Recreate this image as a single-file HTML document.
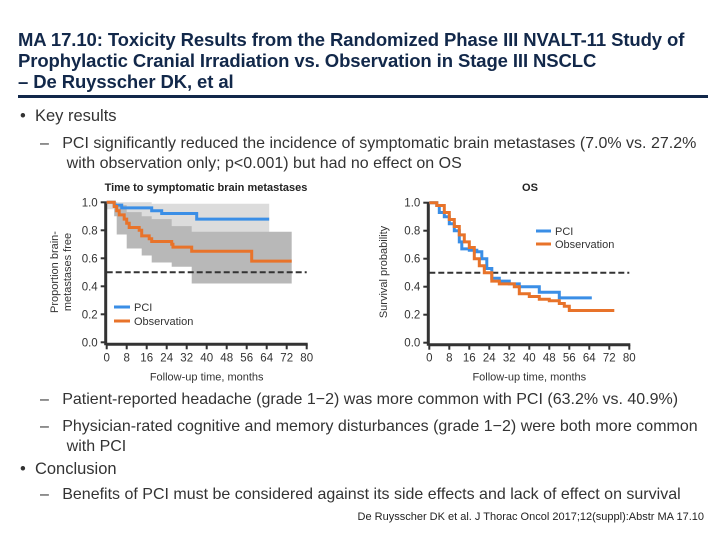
<!DOCTYPE html>
<html><head><meta charset="utf-8"><style>
body{margin:0;width:720px;height:540px;background:#fff;position:relative;overflow:hidden;font-family:"Liberation Sans",sans-serif;color:#222}
.a{position:absolute;white-space:nowrap}
.t{font-weight:bold;color:#12284a;font-size:18.5px;line-height:21px;left:18px;top:29px;letter-spacing:-0.1px}
.b{font-size:16px;color:#333}
</style></head><body>
<div class="a t">MA 17.10: Toxicity Results from the Randomized Phase III NVALT-11 Study of<br>Prophylactic Cranial Irradiation vs. Observation in Stage III NSCLC<br>– De Ruysscher DK, et al</div>
<div class="a" style="left:18px;top:95px;width:690px;height:3px;background:#12284a"></div>
<div class="a b" style="left:20px;top:107px;font-size:16.5px">•&nbsp;&nbsp;Key results</div>
<div class="a b" style="left:40px;top:134px;line-height:20px">–&nbsp;&nbsp;&nbsp;PCI significantly reduced the incidence of symptomatic brain metastases (7.0% vs. 27.2%<br>&nbsp;&nbsp;&nbsp;&nbsp;&nbsp;&nbsp;with observation only; p&lt;0.001) but had no effect on OS</div>
<div class="a b" style="left:40px;top:391px">–&nbsp;&nbsp;&nbsp;Patient-reported headache (grade 1−2) was more common with PCI (63.2% vs. 40.9%)</div>
<div class="a b" style="left:40px;top:417px;line-height:20px">–&nbsp;&nbsp;&nbsp;Physician-rated cognitive and memory disturbances (grade 1−2) were both more common<br>&nbsp;&nbsp;&nbsp;&nbsp;&nbsp;&nbsp;with PCI</div>
<div class="a b" style="left:20px;top:460px;font-size:16.5px">•&nbsp;&nbsp;Conclusion</div>
<div class="a b" style="left:40px;top:486px">–&nbsp;&nbsp;&nbsp;Benefits of PCI must be considered against its side effects and lack of effect on survival</div>
<div class="a" style="right:16px;top:511px;font-size:11px;color:#222">De Ruysscher DK et al. J Thorac Oncol 2017;12(suppl):Abstr MA 17.10</div>
<svg id="s" width="720" height="540" style="position:absolute;left:0;top:0" font-family="Liberation Sans, sans-serif"></svg>
<script>
const xTicks=[0,8,16,24,32,40,48,56,64,72,80];
const yTicks=[0,0.2,0.4,0.6,0.8,1.0];
const bmPciT=[0,3,6,18,22,36,65];
const bmPciS=[1,0.98,0.96,0.94,0.92,0.88,0.88];
const bmObsT=[0,3,4,5,7,8,9,13,14,17,18,26,26.5,34,58,74];
const bmObsS=[1,0.97,0.94,0.91,0.88,0.85,0.82,0.80,0.76,0.74,0.72,0.70,0.68,0.65,0.58,0.58];
const bmPciCiT=[0,3,6,18,22,36,65];
const bmPciLo=[1,0.95,0.93,0.88,0.85,0.78,0.78];
const bmPciHi=[1,1,1,0.99,0.99,0.99,0.99];
const bmObsCiT=[3,4,8,14,18,26,34,58,74];
const bmObsLo=[0.95,0.90,0.77,0.67,0.62,0.57,0.54,0.42,0.42];
const bmObsHi=[1,0.98,0.93,0.90,0.88,0.83,0.79,0.79,0.79];
const osPciT=[0,3,4,6,8,10,12,13,16,19,21,23,25,28,32,36,44,52,65];
const osPciS=[1,0.98,0.93,0.90,0.85,0.80,0.72,0.67,0.66,0.65,0.60,0.53,0.46,0.44,0.42,0.40,0.36,0.32,0.32];
const osObsT=[0,3,6,8,10,12,14,16,18,20,22,25,28,34,36,40,44,48,52,54,56,74];
const osObsS=[1,0.98,0.93,0.88,0.83,0.77,0.72,0.68,0.60,0.55,0.50,0.44,0.42,0.40,0.35,0.33,0.31,0.30,0.28,0.26,0.23,0.23];
const NS='http://www.w3.org/2000/svg',svg=document.getElementById('s');
function el(t,a,p){const e=document.createElementNS(NS,t);for(const k in a)e.setAttribute(k,a[k]);(p||svg).appendChild(e);return e;}
function txt(x,y,s,a,p){const e=el('text',Object.assign({x:x,y:y},a),p);e.textContent=s;return e;}
function step(T,S,sx,sy){let d='M'+sx(T[0])+','+sy(S[0]);for(let i=1;i<T.length;i++){d+='H'+sx(T[i])+'V'+sy(S[i]);}return d;}
function band(T,L,H,sx,sy){let d='M'+sx(T[0])+','+sy(H[0]);for(let i=1;i<T.length;i++)d+='H'+sx(T[i])+'V'+sy(H[i]);for(let i=T.length-1;i>=0;i--){d+='V'+sy(L[i]);if(i>0)d+='H'+sx(T[i-1]);}return d+'Z';}
function axes(g,x0,sx,sy){
  el('line',{x1:sx(0),y1:sy(0)+2,x2:sx(80)+1,y2:sy(0)+2,stroke:'#333','stroke-width':3},g);
  el('line',{x1:sx(0)-1,y1:sy(0)+3,x2:sx(0)-1,y2:sy(1),stroke:'#333','stroke-width':3},g);
  xTicks.forEach(v=>{el('line',{x1:sx(v),y1:sy(0)+2,x2:sx(v),y2:sy(0)+7,stroke:'#333','stroke-width':2},g);txt(sx(v),sy(0)+19,String(v),{'font-size':11.5,fill:'#333','text-anchor':'middle'},g);});
  yTicks.forEach(v=>{el('line',{x1:sx(0)-6,y1:sy(v),x2:sx(0),y2:sy(v),stroke:'#333','stroke-width':2},g);txt(sx(0)-9,sy(v)+4,v.toFixed(1),{'font-size':11.5,fill:'#333','text-anchor':'end'},g);});
  el('line',{x1:sx(0),y1:sy(0.5),x2:sx(80),y2:sy(0.5),stroke:'#333','stroke-width':2,'stroke-dasharray':'6,3'},g);
  txt((sx(0)+sx(80))/2,sy(0)+38,'Follow-up time, months',{'font-size':11,fill:'#333','text-anchor':'middle'},g);
}
const g1=el('g',{});
const sx1=v=>106.7+v*2.5, sy1=v=>342.3-v*140;
el('path',{d:band(bmPciCiT,bmPciLo,bmPciHi,sx1,sy1),fill:'#dcdcdc'},g1);
el('path',{d:band(bmObsCiT,bmObsLo,bmObsHi,sx1,sy1),fill:'#b8b8b8'},g1);
axes(g1,106,sx1,sy1);
const p1=el('path',{d:step(bmPciT,bmPciS,sx1,sy1),fill:'none',stroke:'#3a8ee6','stroke-width':3},g1);
const o1=el('path',{d:step(bmObsT,bmObsS,sx1,sy1),fill:'none',stroke:'#e8732a','stroke-width':3},g1);
txt(206,191,'Time to symptomatic brain metastases',{'font-size':11,'font-weight':'bold',fill:'#222','text-anchor':'middle'},g1);
txt(0,0,'Proportion brain-',{'font-size':11,fill:'#333','text-anchor':'middle',transform:'translate(58,272) rotate(-90)'},g1);
txt(0,0,'metastases free',{'font-size':11,fill:'#333','text-anchor':'middle',transform:'translate(71,272) rotate(-90)'},g1);
el('line',{x1:114,y1:307,x2:130,y2:307,stroke:'#3a8ee6','stroke-width':3},g1);txt(134,311,'PCI',{'font-size':11,fill:'#333'},g1);
el('line',{x1:114,y1:321,x2:130,y2:321,stroke:'#e8732a','stroke-width':3},g1);txt(134,325,'Observation',{'font-size':11,fill:'#333'},g1);
const g2=el('g',{});
const sx2=v=>429.3+v*2.5, sy2=v=>342.7-v*140;
axes(g2,429,sx2,sy2);
const p2=el('path',{d:step(osPciT,osPciS,sx2,sy2),fill:'none',stroke:'#3a8ee6','stroke-width':3},g2);
const o2=el('path',{d:step(osObsT,osObsS,sx2,sy2),fill:'none',stroke:'#e8732a','stroke-width':3},g2);
txt(530,191,'OS',{'font-size':11,'font-weight':'bold',fill:'#222','text-anchor':'middle'},g2);
txt(0,0,'Survival probability',{'font-size':11,fill:'#333','text-anchor':'middle',transform:'translate(387,272) rotate(-90)'},g2);
el('line',{x1:536,y1:231,x2:551,y2:231,stroke:'#3a8ee6','stroke-width':3},g2);txt(555,235,'PCI',{'font-size':11,fill:'#333'},g2);
el('line',{x1:536,y1:244,x2:551,y2:244,stroke:'#e8732a','stroke-width':3},g2);txt(555,248,'Observation',{'font-size':11,fill:'#333'},g2);
</script>
</body></html>
